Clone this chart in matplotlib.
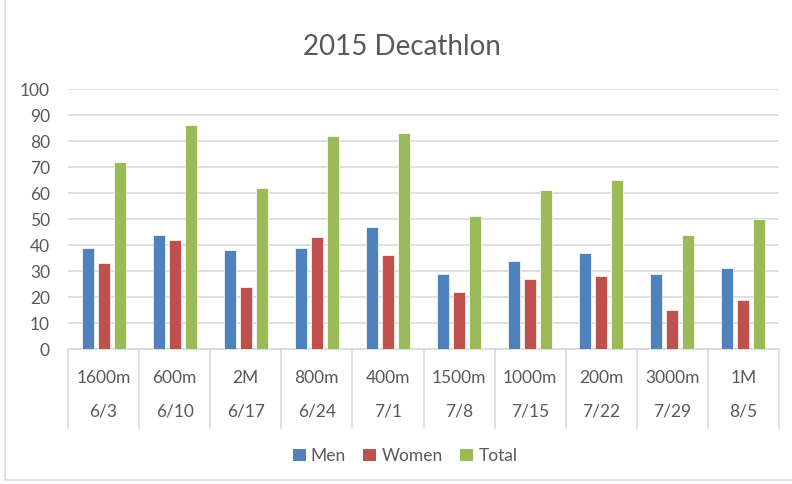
import matplotlib.pyplot as plt
from matplotlib.lines import Line2D
from matplotlib.patches import Patch
import numpy as np

events = ['1600m', '600m', '2M', '800m', '400m', '1500m', '1000m', '200m', '3000m', '1M']
dates = ['6/3', '6/10', '6/17', '6/24', '7/1', '7/8', '7/15', '7/22', '7/29', '8/5']
men = [39, 44, 38, 39, 47, 29, 34, 37, 29, 31]
women = [33, 42, 24, 43, 36, 22, 27, 28, 15, 19]
total = [72, 86, 62, 82, 83, 51, 61, 65, 44, 50]

series = [('Men', men, '#4F81BD'), ('Women', women, '#C0504D'), ('Total', total, '#9BBB59')]
text_color = '#595959'
grid_color = '#D9D9D9'

plt.rcParams['font.family'] = ['Lato', 'DejaVu Sans']

fig = plt.figure(figsize=(7.92, 4.84), dpi=100)
ax = fig.add_axes([68 / 792, 1 - 349 / 484, 711 / 792, 260 / 484])

x = np.arange(len(events))
width = 0.17
step = 0.225
for i, (name, vals, color) in enumerate(series):
    ax.bar(x + (i - 1) * step, vals, width, color=color, edgecolor='white',
           linewidth=0.5, zorder=3, label=name)

ax.set_xlim(-0.5, len(events) - 0.5)
ax.set_ylim(0, 100)
ax.set_yticks(range(0, 101, 10))
ax.yaxis.grid(True, color=grid_color, linewidth=1.2, zorder=0)
ax.tick_params(axis='y', length=0, pad=13, labelsize=12.5, labelcolor=text_color)
ax.set_xticks([])
for side in ['top', 'right', 'left']:
    ax.spines[side].set_visible(False)
ax.spines['bottom'].set_color(grid_color)
ax.spines['bottom'].set_linewidth(1.2)

# two-level category axis
trans = ax.get_xaxis_transform()
for b in np.arange(-0.5, len(events), 1.0):
    ax.plot([b, b], [0, -0.304], transform=trans, color=grid_color,
            linewidth=1.2, clip_on=False)
for xi, ev, d in zip(x, events, dates):
    ax.text(xi, -0.112, ev, transform=trans, ha='center', va='center',
            fontsize=12.5, color=text_color)
    ax.text(xi, -0.242, d, transform=trans, ha='center', va='center',
            fontsize=12.5, color=text_color)

fig.text(0.508, 1 - 47 / 484, '2015 Decathlon', ha='center', va='center',
         fontsize=20, color=text_color)

handles = [Patch(facecolor=c, edgecolor='none') for _, _, c in series]
fig.legend(handles, [n for n, _, _ in series], loc='center',
           bbox_to_anchor=(405 / 792, 1 - 456 / 484), ncol=3, frameon=False,
           handlelength=0.75, handleheight=0.75, handletextpad=0.3,
           columnspacing=1.0, fontsize=12.5, labelcolor=text_color)

# outer chart border
fig.add_artist(Line2D([5 / 792, 5 / 792], [4 / 484, 1], color=grid_color, linewidth=1.2))
fig.add_artist(Line2D([5 / 792, 1], [4 / 484, 4 / 484], color=grid_color, linewidth=1.2))

fig.savefig('out.png', dpi=100)
